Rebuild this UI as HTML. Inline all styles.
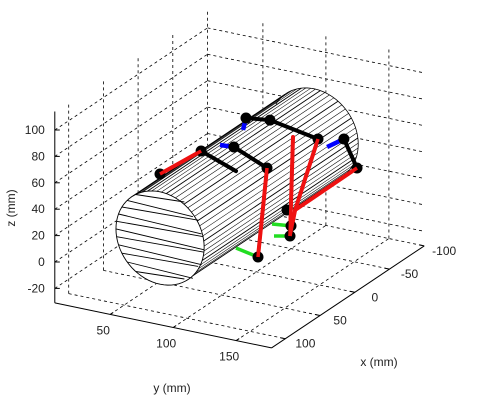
<!DOCTYPE html>
<html><head><meta charset="utf-8"><style>
html,body{margin:0;padding:0;background:#fff;}
svg{display:block;font-family:"Liberation Sans",Arial,sans-serif;}
</style></head><body>
<svg id="chart" width="477" height="401" viewBox="0 0 477 401">
<g id="grid"></g>
<g id="cyl"></g>
<g id="robot"></g>
<g id="axes"></g>
</svg>
<script>
// axis limits and ticks
const xLim = [-100, 120];
const yLim = [6, 178];
const zLim = [-31, 114];
const xTicks = [-100, -50, 0, 50, 100];
const yTicks = [50, 100, 150];
const zTicks = [-20, 0, 20, 40, 60, 80, 100];
// cylinder: [xFront, xBack, yCenter, zCenter, radius]
const cylinderSpec = [115, -107, 86.8, 32.4, 35];
// mechanism points (x, y, z) in mm
const pointNames = ['A','B','Bend','C','Cb','F','D','Db','E','G','R1','H','Hb','I','J','Jm','Jt','K','Kg','G2','G3','Cv'];
const pointX = [0,0,0,0,0,0,0,0,0,0,0,0,0,0,0,0,0,0,0,0,0,0];
const pointY = [23.4,56.0,83.7,82.1,71.0,108.3,91.7,89.3,110.7,148.8,129.0,169.4,156.0,179.8,126.6,127.4,124.2,101.2,83.7,113.9,112.3,130.6];
const pointZ = [27.9,51.8,42.1,60.0,59.3,49.3,83.9,74.3,86.1,79.3,76.9,83.4,74.7,63.5,1.4,9.2,20.6,-19.5,-16.2,-1.1,7.7,21.9];
const greenLinks = [['K','Kg'],['G2','J'],['G3','Jm']];
const blueLinks = [['C','Cb'],['D','Db'],['H','Hb']];
const blackLinks = [['B','Bend'],['C','F'],['D','E'],['E','G'],['H','I']];
const redLinks = [['A','B'],['F','K'],['R1','J'],['G','Cv'],['I','Cv'],['Cv','J']];
const jointNames = ['A','B','C','D','E','F','G','H','I','J','Jm','Jt','K'];

const NS='http://www.w3.org/2000/svg';
function P(x,y,z){return [130.5-0.694*x+1.26*y, 204.7+0.464*x+0.262*y-1.32*z];}
function mk(parent,tag,attrs){const e=document.createElementNS(NS,tag);for(const k in attrs)e.setAttribute(k,attrs[k]);parent.appendChild(e);return e;}
function line(parent,a,b,st,name){const e=mk(parent,'line',{x1:a[0].toFixed(1),y1:a[1].toFixed(1),x2:b[0].toFixed(1),y2:b[1].toFixed(1)});
 for(const k in st)e.setAttribute(k,st[k]);
 
 return e;}
const G=document.getElementById('grid'),C=document.getElementById('cyl'),R=document.getElementById('robot'),A=document.getElementById('axes');
const dash={stroke:'#000','stroke-width':0.8,'stroke-dasharray':'3,3',fill:'none'};
const [x0,x1]=xLim,[y0,y1]=yLim,[z0,z1]=zLim;
xTicks.forEach(x=>line(G,P(x,y0,z0),P(x,y0,z1),dash,'grid-line'));
zTicks.forEach(z=>{line(G,P(x1,y0,z),P(x0,y0,z),dash,'grid-line');line(G,P(x0,y0,z),P(x0,y1,z),dash,'grid-line');});
yTicks.forEach(y=>line(G,P(x0,y,z0),P(x0,y,z1),dash,'grid-line'));
xTicks.forEach(x=>line(G,P(x,y0,z0),P(x,y1,z0),dash,'grid-line'));
yTicks.forEach(y=>line(G,P(x1,y,z0),P(x0,y,z0),dash,'grid-line'));

// cylinder
const [cxf,cxb,cy,cz,cr]=cylinderSpec;const N=72;
for(let i=0;i<N;i++){const t1=i/N*2*Math.PI,t2=(i+1)/N*2*Math.PI;
 const a=P(cxf,cy+cr*Math.cos(t1),cz+cr*Math.sin(t1)),b=P(cxb,cy+cr*Math.cos(t1),cz+cr*Math.sin(t1)),
 c=P(cxb,cy+cr*Math.cos(t2),cz+cr*Math.sin(t2)),d=P(cxf,cy+cr*Math.cos(t2),cz+cr*Math.sin(t2));
 const q=mk(C,'polygon',{points:[a,b,c,d].map(p=>p.join(',')).join(' '),fill:'#fff',stroke:'#fff','stroke-width':1});
 
 }
// visible back cap arc
let bp=[];for(let d=-45;d<=150;d+=3){const t=d*Math.PI/180;bp.push(P(cxb,cy+cr*Math.cos(t),cz+cr*Math.sin(t)));}
const bo=mk(C,'polyline',{points:bp.map(p=>p.join(',')).join(' '),fill:'none',stroke:'#000','stroke-width':0.8});


// hatching
for(let k=0;k<=30;k++){const t=(-42+k*6.2)*Math.PI/180;const yy=cy+cr*Math.cos(t),zz=cz+cr*Math.sin(t);
 line(C,P(cxf,yy,zz),P(cxb,yy,zz),{stroke:'#000','stroke-width':(k%4==0?0.9:0.55)},'cylinder-hatch');}
// front cap
let fp=[];for(let i=0;i<=N;i++){const t=i/N*2*Math.PI;fp.push(P(cxf,cy+cr*Math.cos(t),cz+cr*Math.sin(t)));}
const fc=mk(C,'polygon',{points:fp.map(p=>p.join(',')).join(' '),fill:'#fff',stroke:'#000','stroke-width':0.9});


for(let k=1;k<12;k++){const zz=cz-cr+k*2*cr/12;const h=Math.sqrt(cr*cr-(zz-cz)**2);
 line(C,P(cxf,cy-h,zz),P(cxf,cy+h,zz+(k%2?2:-2)),{stroke:'#000','stroke-width':0.9},'cap-hatch');}

// mechanism
const pt={};pointNames.forEach((n,i)=>pt[n]=P(pointX[i],pointY[i],pointZ[i]));
const lw={stroke:'#000','stroke-width':4,'stroke-linecap':'round'};
greenLinks.forEach(l=>line(R,pt[l[0]],pt[l[1]],{stroke:'#22dd22','stroke-width':3.5},'green-link'));
blueLinks.forEach(l=>line(R,pt[l[0]],pt[l[1]],{stroke:'#0000ff','stroke-width':4.5},'blue-link'));
blackLinks.forEach(l=>line(R,pt[l[0]],pt[l[1]],lw,'black-link'));
redLinks.forEach(l=>line(R,pt[l[0]],pt[l[1]],{stroke:'#ee1111','stroke-width':4,'stroke-linecap':'round'},'red-link'));
jointNames.forEach(n=>{const c=mk(R,'circle',{cx:pt[n][0].toFixed(1),cy:pt[n][1].toFixed(1),r:5.5,fill:'#000'});
 
 });
redLinks.forEach(l=>line(R,pt[l[0]],pt[l[1]],{stroke:'#ee1111','stroke-width':3.5},'red-link'));

// axes
const ax={stroke:'#000','stroke-width':1};
line(A,P(x1,y0,z0),P(x1,y0,z1),ax,'z-axis-line');
line(A,P(x1,y0,z0),P(x1,y1,z0),ax,'y-axis-line');
line(A,P(x1,y1,z0),P(x0,y1,z0),ax,'x-axis-line');
function txt(x,y,s,anchor,name,rot){const t=mk(A,'text',{x:x.toFixed(1),y:y.toFixed(1),'font-size':12,'text-anchor':anchor,fill:'#222'});
 if(rot)t.setAttribute('transform',`rotate(-90 ${x} ${y})`);t.textContent=s;
 
 }
zTicks.forEach(z=>{const p=P(x1,y0,z);line(A,p,[p[0]+5,p[1]],ax,'z-tick');txt(p[0]-10,p[1]+4,String(z),'end','z-tick-label');});
yTicks.forEach(y=>{const p=P(x1,y,z0);line(A,p,[p[0]+3,p[1]-2],ax,'y-tick');txt(p[0]-7,p[1]+20,String(y),'middle','y-tick-label');});
xTicks.forEach(x=>{const p=P(x,y1,z0);line(A,p,[p[0]-5,p[1]-1],ax,'x-tick');txt(p[0]+20,p[1]+9,String(x),'middle','x-tick-label');});
txt(15,208,'z (mm)','middle','z-axis-title',true);
txt(172,392,'y (mm)','middle','y-axis-title');
txt(379,366,'x (mm)','middle','x-axis-title');
</script>
</body></html>
